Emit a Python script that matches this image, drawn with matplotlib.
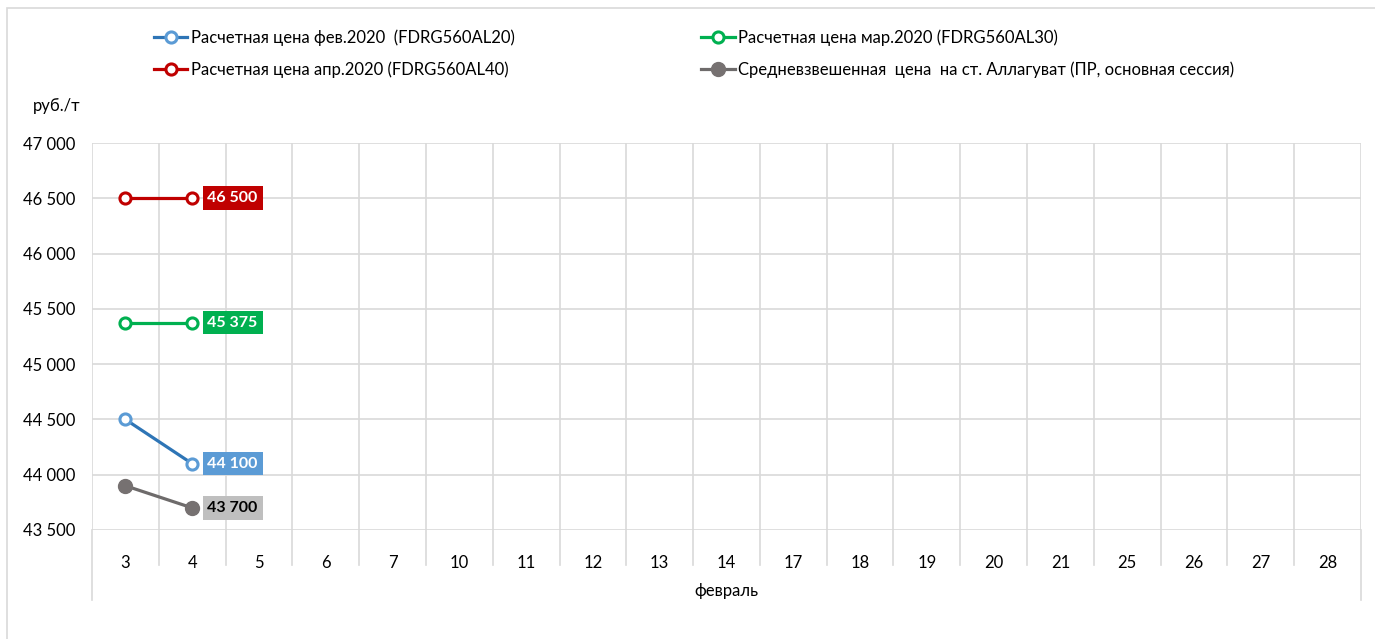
import matplotlib.pyplot as plt
from matplotlib.patches import Rectangle
from matplotlib.ticker import FuncFormatter, MultipleLocator

plt.rcParams['font.family'] = ['Lato', 'DejaVu Sans']

# категории оси X (дни февраля)
days = ['3', '4', '5', '6', '7', '10', '11', '12', '13', '14',
        '17', '18', '19', '20', '21', '25', '26', '27', '28']
# значения рядов (только первые два дня заполнены)
price_feb = [44500, 44100]
price_mar = [45375, 45375]
price_apr = [46500, 46500]
avg_price = [43900, 43700]

label_feb = 'Расчетная цена фев.2020  (FDRG560AL20)'
label_mar = 'Расчетная цена мар.2020 (FDRG560AL30)'
label_apr = 'Расчетная цена апр.2020 (FDRG560AL40)'
label_avg = 'Средневзвешенная  цена  на ст. Аллагуват (ПР, основная сессия)'

W, H = 1375, 639
fig = plt.figure(figsize=(W / 100, H / 100), dpi=100)
# рамка области диаграммы
fig.patches.append(Rectangle((7 / W, -0.1), 1.2, 1 - 8 / H + 0.1, transform=fig.transFigure,
                             fill=False, edgecolor='#D9D9D9', linewidth=1.2))

ax = fig.add_axes([92 / W, 1 - 530 / H, (1361 - 92) / W, (530 - 143) / H])
x = list(range(len(days)))
n = len(price_feb)

l_feb, = ax.plot(x[:n], price_feb, color='#2E75B6', lw=2.3, marker='o', ms=8,
                 mfc='white', mec='#5B9BD5', mew=2.2, zorder=5)
l_mar, = ax.plot(x[:n], price_mar, color='#00B050', lw=2.3, marker='o', ms=8,
                 mfc='white', mec='#00B050', mew=2.2, zorder=5)
l_apr, = ax.plot(x[:n], price_apr, color='#C00000', lw=2.3, marker='o', ms=8,
                 mfc='white', mec='#C00000', mew=2.2, zorder=5)
l_avg, = ax.plot(x[:n], avg_price, color='#6E6B6B', lw=2.3, marker='o', ms=10,
                 mfc='#767171', mec='#767171', zorder=5)

def fmt(v, pos=None):
    return f'{int(v):,}'.replace(',', ' ')

# подписи последних значений
for vals, bg, fg in [(price_apr, '#C00000', 'white'), (price_mar, '#00B050', 'white'),
                     (price_feb, '#5B9BD5', 'white'), (avg_price, '#BFBFBF', 'black')]:
    ax.annotate(fmt(vals[-1]), (x[n - 1], vals[-1]), xytext=(11, 0), textcoords='offset points',
                ha='left', va='center', fontsize=11.5, fontweight='bold', color=fg,
                bbox=dict(boxstyle='square,pad=0.3', fc=bg, ec='none'), zorder=6)

ax.set_xlim(-0.5, len(days) - 0.5)
ax.set_ylim(43500, 47000)
ax.yaxis.set_major_locator(MultipleLocator(500))
ax.yaxis.set_major_formatter(FuncFormatter(fmt))
ax.set_xticks(x)
ax.set_xticklabels(days)
ax.tick_params(axis='both', length=0, labelsize=12, colors='#000000')
ax.tick_params(axis='x', pad=18)
ax.tick_params(axis='y', pad=12)

ax.grid(axis='y', color='#D9D9D9', lw=1.2)
for b in range(len(days) + 1):
    xb = b - 0.5
    ax.axvline(xb, color='#D9D9D9', lw=1.2, zorder=0)
    # продолжение разделителей в области подписей
    bottom = -0.18 if b in (0, len(days)) else -0.09
    ax.plot([xb, xb], [0, bottom], transform=ax.get_xaxis_transform(),
            color='#D9D9D9', lw=1.2, clip_on=False)
for s in ax.spines.values():
    s.set_visible(False)

fig.text(726 / W, 1 - 591 / H, 'февраль', ha='center', va='center', fontsize=12)
fig.text(57 / W, 1 - 106 / H, 'руб./т', ha='center', va='center', fontsize=12)

fig.legend([l_feb, l_apr, l_mar, l_avg], [label_feb, label_apr, label_mar, label_avg],
           ncol=2, loc='upper left', bbox_to_anchor=(154 / W, 1 - 29 / H), frameon=False,
           fontsize=12, handlelength=2.0, handletextpad=0.2, columnspacing=11.2,
           labelspacing=0.95, borderpad=0, borderaxespad=0)

fig.savefig('out.png', dpi=100)
